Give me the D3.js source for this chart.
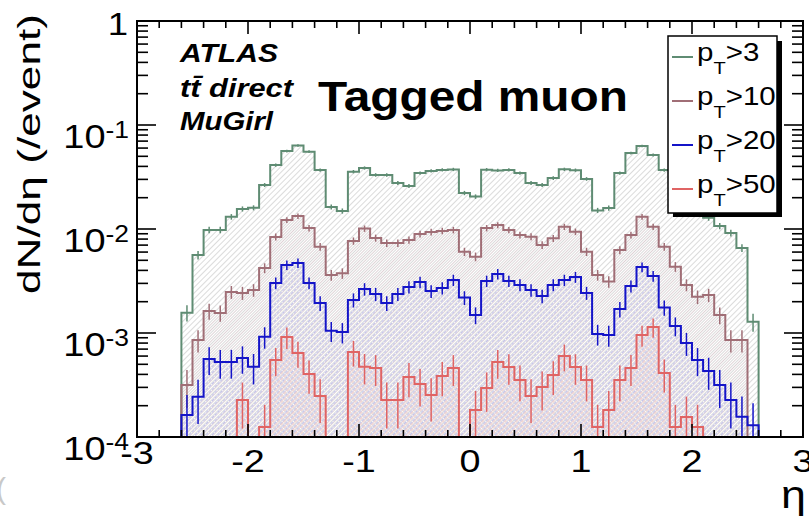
<!DOCTYPE html>
<html>
<head>
<meta charset="utf-8">
<script src="https://cdn.jsdelivr.net/npm/d3@7/dist/d3.min.js"></script>
<style>
  body { margin: 0; background: #fff; }
  svg { display: block; }
  text { font-family: "Liberation Sans", Arial, Helvetica, sans-serif; }
</style>
</head>
<body>
<svg id="chart" width="809" height="517"></svg>
<script>
// Binning: 60 bins of 0.1 in eta, from -3 to 3
const etaMin = -3, etaMax = 3, nBins = 60;

// dN/deta per event for tagged muons, one array per pT threshold (GeV)
const pt3 = [0, 0, 0, 0,
  1.57e-3, 5.62e-3, 9.8e-3, 9.8e-3, 1.31e-2, 1.56e-2, 1.60e-2, 2.65e-2, 4.12e-2, 5.62e-2,
  6.35e-2, 5.54e-2, 3.69e-2, 1.63e-2, 1.49e-2, 3.56e-2, 3.86e-2, 3.31e-2, 3.31e-2, 2.77e-2,
  2.59e-2, 3.45e-2, 3.62e-2, 3.70e-2, 3.74e-2, 2.22e-2, 2.05e-2, 3.72e-2, 3.66e-2, 3.70e-2,
  3.45e-2, 2.77e-2, 2.65e-2, 3.09e-2, 3.75e-2, 3.68e-2, 3.03e-2, 1.51e-2, 1.59e-2, 3.45e-2,
  5.38e-2, 6.28e-2, 5.15e-2, 3.69e-2, 2.48e-2, 1.70e-2, 1.46e-2, 1.28e-2, 1.07e-2, 9.16e-3,
  6.57e-3, 1.28e-3,
  0, 0, 0, 0];

const pt10 = [0, 0, 0, 0,
  3.16e-4, 8.57e-4, 1.63e-3, 1.56e-3, 2.48e-3, 2.43e-3, 2.59e-3, 4.22e-3, 8.38e-3, 1.22e-2,
  1.33e-2, 1.02e-2, 6.76e-3, 3.61e-3, 3.75e-3, 7.67e-3, 1.01e-2, 8.19e-3, 7.33e-3, 7.33e-3,
  7.84e-3, 8.95e-3, 9.35e-3, 9.57e-3, 9.78e-3, 6.05e-3, 5.42e-3, 1.02e-2, 1.09e-2, 9.78e-3,
  8.75e-3, 8.43e-3, 7.02e-3, 8.14e-3, 1.05e-2, 9.42e-3, 6.05e-3, 3.61e-3, 3.12e-3, 6.28e-3,
  8.75e-3, 1.31e-2, 1.05e-2, 6.76e-3, 4.34e-3, 2.90e-3, 2.23e-3, 2.32e-3, 1.49e-3, 8.57e-4,
  8.57e-4, 0,
  0, 0, 0, 0];

const pt20 = [0, 0, 0, 0,
  1.63e-4, 2.44e-4, 5.62e-4, 5.26e-4, 5.26e-4, 5.75e-4, 4.74e-4, 9.21e-4, 3.03e-3, 4.51e-3,
  4.71e-3, 3.03e-3, 1.94e-3, 1.05e-3, 1.02e-3, 2.08e-3, 2.65e-3, 2.37e-3, 1.94e-3, 2.37e-3,
  2.77e-3, 3.09e-3, 2.53e-3, 2.71e-3, 3.23e-3, 2.19e-3, 1.49e-3, 3.16e-3, 3.69e-3, 3.16e-3,
  2.90e-3, 2.59e-3, 2.27e-3, 2.90e-3, 3.23e-3, 3.45e-3, 2.43e-3, 9.78e-4, 9.57e-4, 1.70e-3,
  2.83e-3, 4.31e-3, 3.53e-3, 1.76e-3, 1.17e-3, 8.02e-4, 5.50e-4, 4.31e-4, 3.16e-4, 2.27e-4,
  1.57e-4, 1.30e-4,
  0, 0, 0, 0];

const pt50 = [0, 0, 0, 0,
  0, 0, 0, 0, 0, 2.27e-4, 0, 1.25e-4, 5.50e-4, 9.16e-4,
  6.43e-4, 4.03e-4, 2.48e-4, 0, 0, 6.57e-4, 4.74e-4, 4.61e-4, 2.27e-4, 2.27e-4,
  3.78e-4, 3.23e-4, 2.54e-4, 3.86e-4, 4.61e-4, 0, 1.82e-4, 2.96e-4, 5.26e-4, 4.71e-4,
  3.53e-4, 2.48e-4, 3.03e-4, 3.94e-4, 6.01e-4, 4.71e-4, 3.53e-4, 1.25e-4, 1.82e-4, 3.53e-4,
  4.61e-4, 9.57e-4, 1.14e-3, 4.12e-4, 1.25e-4, 1.56e-4, 1.25e-4, 0, 0, 0,
  0, 0,
  0, 0, 0, 0];

// Events in the sample, used for the Poisson error bars
const nEvents = 200000;

const seriesNames = ["3", "10", "20", "50"];
const seriesColors = ["#5f8c73", "#a06e76", "#1414c8", "#e06464"];
const hatchColors = ["#d2d2d2", "#d6c8cb", "#b4b4ea", "#eebcbc"];
const seriesValues = [pt3, pt10, pt20, pt50];

const xTickLabels = [-3, -2, -1, 0, 1, 2, 3];
const yExponents = [0, -1, -2, -3, -4];

const svg = d3.select("#chart");
const L = 137, R = 803, T = 21, B = 437;

const x = d3.scaleLinear().domain([etaMin, etaMax]).range([L, R]);
const y = d3.scaleLog().domain([1e-4, 1]).range([B, T]);
const binW = (etaMax - etaMin) / nBins;

const defs = svg.append("defs");
defs.append("clipPath").attr("id", "plotClip")
  .append("rect").attr("x", L).attr("y", T).attr("width", R - L).attr("height", B - T + 2);

// diagonal hatching for each histogram fill
const hatchOffsets = [0.5, 2.5, 1.5, 3.3];
seriesColors.forEach((c, i) => {
  const p = defs.append("pattern")
    .attr("id", "hatch" + i)
    .attr("patternUnits", "userSpaceOnUse")
    .attr("width", 4).attr("height", 4)
    .attr("patternTransform", "rotate(45)");
  p.append("line")
    .attr("x1", hatchOffsets[i]).attr("y1", 0)
    .attr("x2", hatchOffsets[i]).attr("y2", 4)
    .attr("stroke", hatchColors[i])
    .attr("stroke-width", 0.8)
    .attr("stroke-dasharray", i >= 2 ? "2,1" : null);
});

const yFloor = v => (v > 1e-4 ? y(v) : B);

function histPath(vals) {
  let d = "M" + x(etaMin) + "," + yFloor(vals[0]);
  vals.forEach((v, i) => {
    const x0 = x(etaMin + i * binW), x1 = x(etaMin + (i + 1) * binW);
    d += "L" + x0 + "," + yFloor(v) + "L" + x1 + "," + yFloor(v);
  });
  return d;
}

const plot = svg.append("g").attr("clip-path", "url(#plotClip)");

// hatched fills
seriesValues.forEach((vals, i) => {
  plot.append("path")
    .attr("d", histPath(vals) + "L" + x(etaMax) + "," + B + "L" + x(etaMin) + "," + B + "Z")
    .attr("fill", "url(#hatch" + i + ")")
    .attr("stroke", "none");
});

// frame
svg.append("rect")
  .attr("x", L).attr("y", T).attr("width", R - L).attr("height", B - T)
  .attr("fill", "none").attr("stroke", "#000").attr("stroke-width", 2);

// histogram outlines and error bars
seriesValues.forEach((vals, i) => {
  plot.append("path")
    .attr("d", histPath(vals))
    .attr("fill", "none")
    .attr("stroke", seriesColors[i])
    .attr("stroke-width", 2);
  const g = plot.append("g").attr("stroke", seriesColors[i]).attr("stroke-width", 1.5);
  vals.forEach((v, k) => {
    if (v <= 0) return;
    const counts = v * nEvents * binW;
    const err = Math.sqrt(counts) / (nEvents * binW);
    const xc = x(etaMin + (k + 0.5) * binW);
    g.append("line")
      .attr("x1", xc).attr("x2", xc)
      .attr("y1", y(v + err))
      .attr("y2", v - err > 1e-4 ? y(v - err) : B);
  });
});

// axis ticks (ROOT style, inside the frame on all four sides)
const tickG = svg.append("g").attr("stroke", "#000").attr("stroke-width", 1.6);
for (let e = -4; e <= 0; e++) {
  const yy = y(Math.pow(10, e));
  tickG.append("line").attr("x1", L).attr("x2", L + 19).attr("y1", yy).attr("y2", yy);
  tickG.append("line").attr("x1", R).attr("x2", R - 19).attr("y1", yy).attr("y2", yy);
  if (e < 0) {
    for (let m = 2; m <= 9; m++) {
      const ym = y(m * Math.pow(10, e));
      tickG.append("line").attr("x1", L).attr("x2", L + 11).attr("y1", ym).attr("y2", ym);
      tickG.append("line").attr("x1", R).attr("x2", R - 11).attr("y1", ym).attr("y2", ym);
    }
  }
}
for (let k = 0; k <= 30; k++) {
  const v = etaMin + k * 0.2;
  const xx = x(v);
  const major = k % 5 === 0;
  const len = major ? 13 : 7;
  tickG.append("line").attr("x1", xx).attr("x2", xx).attr("y1", B).attr("y2", B - len);
  tickG.append("line").attr("x1", xx).attr("x2", xx).attr("y1", T).attr("y2", T + len);
}

// y tick labels
yExponents.forEach(e => {
  const yy = y(Math.pow(10, e));
  if (e === 0) {
    svg.append("text")
      .attr("transform", `translate(128,${yy + 14}) scale(1.18,1)`)
      .attr("text-anchor", "end").attr("font-size", 31).text("1");
  } else {
    const t = svg.append("text")
      .attr("transform", `translate(129,${yy + 23}) scale(1.15,1)`)
      .attr("text-anchor", "end").attr("font-size", 33);
    t.append("tspan").text("10");
    t.append("tspan").attr("font-size", 23).attr("dy", -10).text("-" + Math.abs(e));
  }
});

// x tick labels
xTickLabels.forEach(v => {
  svg.append("text")
    .attr("transform", `translate(${x(v)},${v === -3 ? 464 : 472}) scale(1.18,1)`)
    .attr("text-anchor", "middle").attr("font-size", 32)
    .text(String(v));
});

// axis titles
svg.append("text")
  .attr("transform", "translate(781,508) scale(1.18,1)")
  .attr("font-size", 38).text("η");
svg.append("text")
  .attr("transform", "translate(40,154) rotate(-90)")
  .attr("text-anchor", "middle").attr("font-size", 31)
  .attr("textLength", 280).attr("lengthAdjust", "spacingAndGlyphs")
  .text("dN/dη (/event)");

// experiment labels
const labels = [["ATLAS", 62, 98], ["tt\u0304 direct", 97, 113], ["MuGirl", 130, 93]];
labels.forEach(([s, yy, w]) => {
  svg.append("text")
    .attr("x", 180).attr("y", yy)
    .attr("font-size", 26).attr("font-weight", "bold").attr("font-style", "italic")
    .attr("textLength", w).attr("lengthAdjust", "spacingAndGlyphs")
    .text(s);
});
svg.append("text")
  .attr("x", 318).attr("y", 111)
  .attr("font-size", 42).attr("font-weight", "bold")
  .attr("textLength", 310).attr("lengthAdjust", "spacingAndGlyphs")
  .text("Tagged muon");

// legend
const lg = svg.append("g");
lg.append("rect").attr("x", 673).attr("y", 41).attr("width", 109).attr("height", 176).attr("fill", "#000");
lg.append("rect").attr("x", 668).attr("y", 36).attr("width", 109).attr("height", 177)
  .attr("fill", "#fff").attr("stroke", "#000").attr("stroke-width", 1.5);
seriesNames.forEach((n, i) => {
  const base = 61 + i * 44;
  lg.append("line").attr("x1", 672).attr("x2", 693).attr("y1", base - 4).attr("y2", base - 4)
    .attr("stroke", seriesColors[i]).attr("stroke-width", 2);
  const t = lg.append("text")
    .attr("transform", `translate(697,${base}) scale(1.18,1)`)
    .attr("font-size", 25);
  t.append("tspan").text("p");
  t.append("tspan").attr("font-size", 17).attr("dy", 13).text("T");
  t.append("tspan").attr("dy", -13).text(">" + n);
});

// stray glyph at the lower-left page edge
svg.append("text").attr("x", -4).attr("y", 499).attr("font-size", 30)
  .attr("fill", "#c8c8c8").text("(");
</script>
</body>
</html>
